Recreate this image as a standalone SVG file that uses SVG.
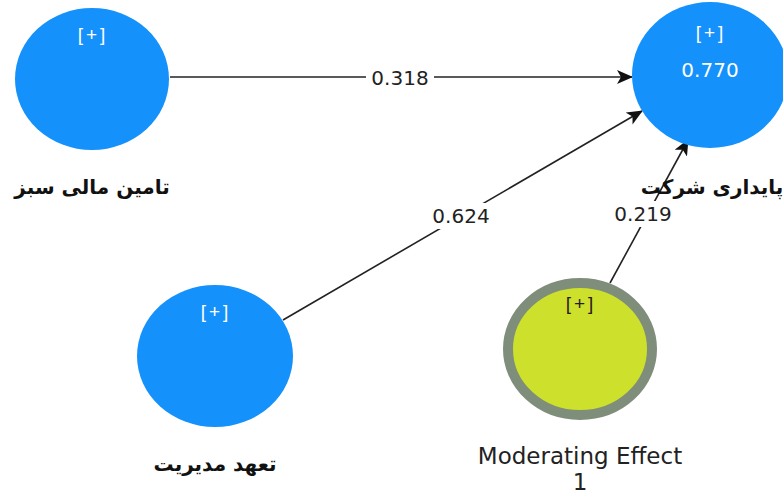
<svg xmlns="http://www.w3.org/2000/svg" width="783" height="496" viewBox="0 0 783 496">
<style>
.lv{fill:#1591fc;}
.mod{fill:#cde12c;stroke:#7f8e7b;stroke-width:10;}
.pl{font-family:"Liberation Sans","DejaVu Sans",sans-serif;font-size:19px;letter-spacing:3px;fill:#ffffff;text-anchor:middle;}
.r2{font-family:"DejaVu Sans","Liberation Sans",sans-serif;font-size:20px;fill:#ffffff;text-anchor:middle;}
.fa{font-family:"DejaVu Sans","Noto Sans",sans-serif;font-size:20px;font-weight:bold;fill:#111;text-anchor:middle;}
.en{font-family:"DejaVu Sans","Noto Sans",sans-serif;font-size:23px;fill:#222;text-anchor:middle;}
.co{font-family:"DejaVu Sans","Noto Sans",sans-serif;font-size:20px;fill:#222;text-anchor:middle;}
.ln{stroke:#222;stroke-width:1.6;fill:none;marker-end:url(#ah);}
</style>
<defs>
<marker id="ah" markerWidth="16" markerHeight="14" refX="15" refY="7" orient="auto" markerUnits="userSpaceOnUse">
<path d="M0,0 L16,7 L0,14 L4,7 Z" fill="#111"/>
</marker>
</defs>
<rect width="783" height="496" fill="#ffffff"/>
<g id="connectors">
<line class="ln" x1="170" y1="77" x2="632" y2="77"/>
<rect x="366" y="65" width="68" height="26" fill="#fff"/>
<text class="co" x="400" y="85">0.318</text>
<line class="ln" x1="283" y1="320" x2="642" y2="111"/>
<rect x="428" y="203" width="66" height="26" fill="#fff"/>
<text class="co" x="461" y="223">0.624</text>
<line class="ln" x1="610" y1="283" x2="688" y2="140"/>
<rect x="612" y="201" width="62" height="26" fill="#fff"/>
<text class="co" x="643" y="221">0.219</text>
</g>
<g id="node-green-finance">
<ellipse class="lv" cx="92" cy="79" rx="77" ry="71"/>
<text class="pl" x="93" y="41">[+]</text>
<text class="fa" x="92" y="194" direction="rtl">تامین مالی سبز</text>
</g>
<g id="node-sustainability">
<ellipse class="lv" cx="710" cy="75" rx="78" ry="73"/>
<text class="pl" x="711" y="39">[+]</text>
<text class="r2" x="710" y="77">0.770</text>
<text class="fa" x="712" y="194" direction="rtl">پایداری شرکت</text>
</g>
<g id="node-management">
<ellipse class="lv" cx="215" cy="356" rx="78" ry="71"/>
<text class="pl" x="216" y="318">[+]</text>
<text class="fa" x="215" y="471" direction="rtl">تعهد مدیریت</text>
</g>
<g id="node-moderating">
<ellipse class="mod" cx="580" cy="349" rx="72" ry="66"/>
<text class="pl" x="581" y="310" style="fill:#2a1a1a">[+]</text>
<text class="en" x="580" y="464">Moderating Effect</text>
<text class="en" x="580" y="490">1</text>
</g>
</svg>
